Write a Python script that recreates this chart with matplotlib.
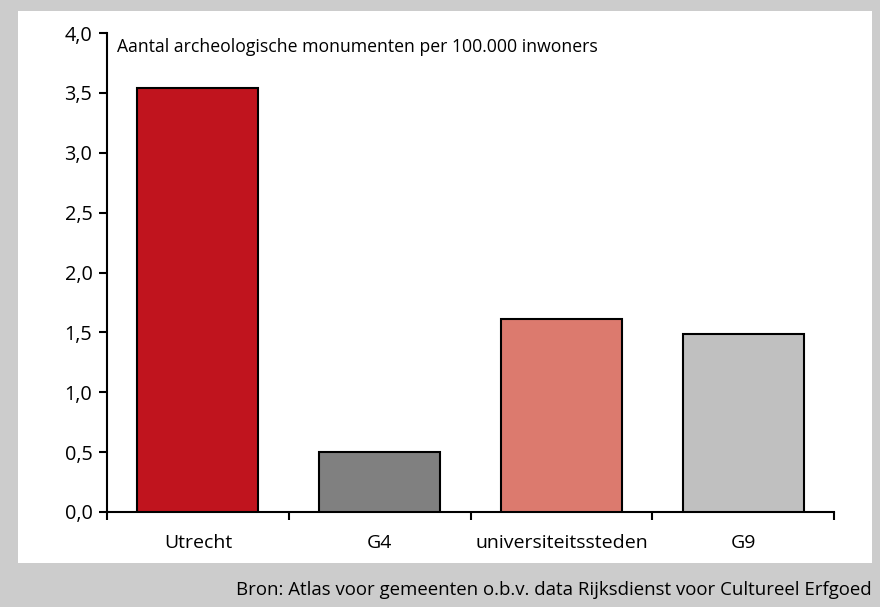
import matplotlib
matplotlib.use('Agg')
import matplotlib.pyplot as plt
from matplotlib.patches import Rectangle
from matplotlib.ticker import FixedLocator, FuncFormatter

plt.rcParams['font.family'] = ['Open Sans', 'DejaVu Sans']

categories = ['Utrecht', 'G4', 'universiteitssteden', 'G9']
values = [3.54, 0.50, 1.61, 1.49]
bar_colors = ['#c0141e', '#808080', '#dc7a6e', '#c0c0c0']
yticks = [0.0, 0.5, 1.0, 1.5, 2.0, 2.5, 3.0, 3.5, 4.0]

fig = plt.figure(figsize=(8.8, 6.07), dpi=100)
fig.patch.set_facecolor('#cccccc')

# white panel behind the chart
fig.patches.append(Rectangle((18/880, 1-563/607), (872-18)/880, (563-11)/607,
                             transform=fig.transFigure, facecolor='white',
                             edgecolor='none', zorder=-1))

ax = fig.add_axes([107/880, 1-512/607, (834-107)/880, (512-33)/607])
ax.set_facecolor('none')

x = range(len(categories))
ax.bar(x, values, width=0.665, color=bar_colors, edgecolor='black', linewidth=1.5, zorder=3)

ax.set_xlim(-0.5, len(categories)-0.5)
ax.set_ylim(0, 4.0)
ax.set_yticks(yticks)
ax.yaxis.set_major_formatter(FuncFormatter(lambda v, p: '{:.1f}'.format(v).replace('.', ',')))

ax.set_xticks(list(x))
ax.set_xticklabels(categories)
ax.xaxis.set_minor_locator(FixedLocator([i - 0.5 for i in range(len(categories)+1)]))
ax.tick_params(axis='x', which='major', length=0, pad=16, labelsize=14)
ax.tick_params(axis='x', which='minor', length=5.5, width=1.5, direction='out')
ax.tick_params(axis='y', length=5.5, width=1.5, pad=5, labelsize=14.3)

for s in ['top', 'right']:
    ax.spines[s].set_visible(False)
ax.spines['left'].set_linewidth(1.5)
ax.spines['bottom'].set_linewidth(1.5)

ax.text(10/727, 1-(52-33)/479, 'Aantal archeologische monumenten per 100.000 inwoners',
        transform=ax.transAxes, ha='left', va='baseline', fontsize=12.7)

fig.text(872/880, 1-590/607, 'Bron: Atlas voor gemeenten o.b.v. data Rijksdienst voor Cultureel Erfgoed',
         ha='right', va='center', fontsize=13.4)

fig.savefig('out.png', dpi=100, facecolor=fig.get_facecolor())
